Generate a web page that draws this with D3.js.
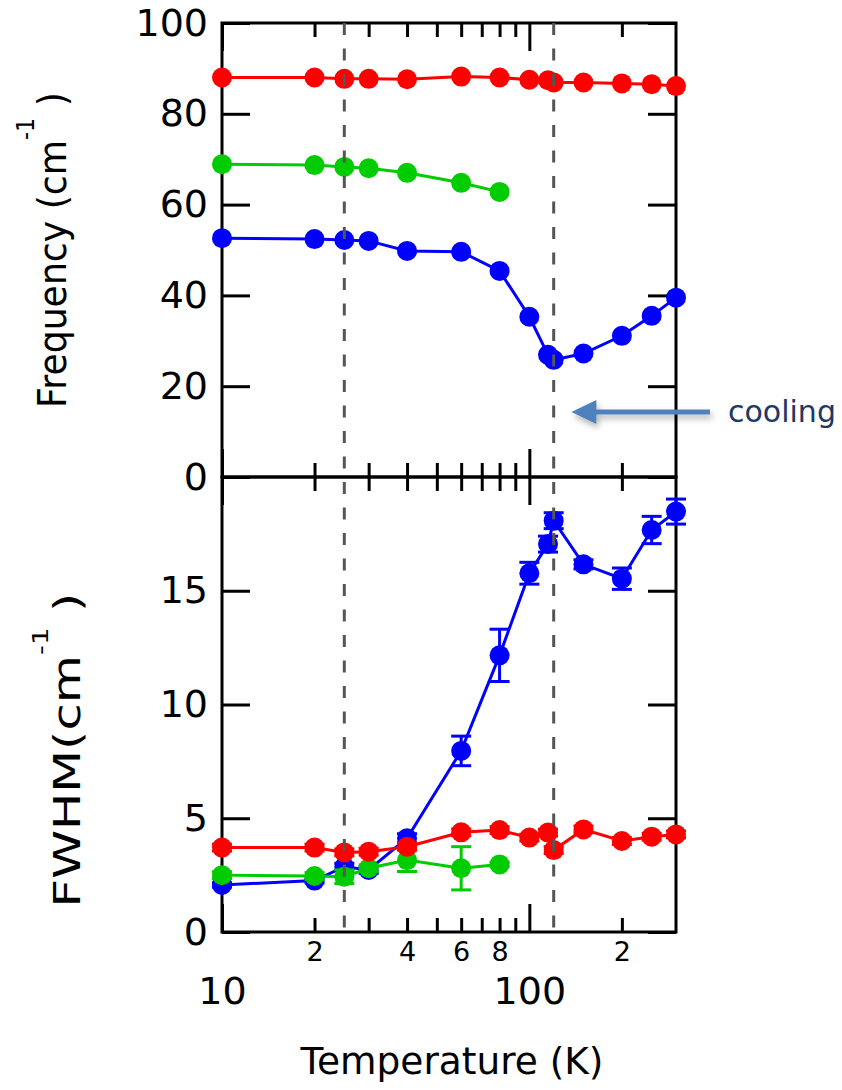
<!DOCTYPE html>
<html>
<head>
<meta charset="utf-8">
<script src="https://cdn.jsdelivr.net/npm/d3@7"></script>
<style>
  body { margin: 0; background: #fff; }
  text { font-family: "DejaVu Sans", sans-serif; }
</style>
</head>
<body>
<div id="chart"></div>
<script>
// temperatures (K) shared by every series
var temps = [10, 20, 25, 30, 40, 60, 80, 100, 115, 120, 150, 200, 250, 300];

// phonon frequency (cm-1)
var freqRed   = [88.0, 88.0, 87.7, 87.7, 87.6, 88.2, 88.0, 87.5, 87.4, 86.9, 86.9, 86.7, 86.5, 86.1];
var freqGreen = [68.9, 68.7, 68.3, 68.0, 67.0, 64.8, 62.8];
var freqBlue  = [52.6, 52.4, 52.2, 52.0, 49.8, 49.6, 45.4, 35.3, 26.9, 25.8, 27.2, 31.1, 35.5, 39.5];

// linewidth (cm-1) and error bars
var fwhmRed      = [3.71, 3.71, 3.50, 3.53, 3.75, 4.38, 4.48, 4.15, 4.37, 3.60, 4.51, 4.00, 4.19, 4.29];
var fwhmRedErr   = [0.15, 0.15, 0.15, 0.15, 0.15, 0.15, 0.15, 0.15, 0.15, 0.15, 0.15, 0.15, 0.15, 0.15];
var fwhmGreen    = [2.50, 2.46, 2.43, 2.80, 3.16, 2.80, 2.97];
var fwhmGreenErr = [0.15, 0.15, 0.30, 0.15, 0.50, 0.95, 0.10];
var fwhmBlue     = [2.07, 2.26, 2.87, 2.73, 4.12, 7.96, 12.16, 15.77, 17.05, 18.08, 16.16, 15.53, 17.67, 18.48];
var fwhmBlueErr  = [0.10, 0.10, 0.15, 0.15, 0.20, 0.65, 1.15, 0.48, 0.35, 0.35, 0.20, 0.47, 0.60, 0.55];

// axes
var freqTicks = [0, 20, 40, 60, 80, 100];
var fwhmTicks = [0, 5, 10, 15];
var majorT = [10, 100];
var minorT = [20, 30, 40, 50, 60, 70, 80, 90, 200];
var minorLabels = { 20: "2", 40: "4", 60: "6", 80: "8", 200: "2" };
var transitionT = [25, 120];

var colors = { red: "#ff0000", green: "#00cc00", blue: "#0000ff" };

var W = 842, H = 1090;
var plot = { left: 222, right: 676, top: 23, mid: 477, bottom: 932 };

var svg = d3.select("#chart").append("svg")
    .attr("width", W)
    .attr("height", H);

var x = d3.scaleLog().domain([10, 300]).range([plot.left, plot.right]);
var yFreq = d3.scaleLinear().domain([0, 100]).range([plot.mid, plot.top]);
var yFwhm = d3.scaleLinear().domain([0, 20]).range([plot.bottom, plot.mid]);

var defs = svg.append("defs");
defs.append("filter").attr("id", "shadow")
    .attr("x", "-20%").attr("y", "-100%").attr("width", "140%").attr("height", "300%")
  .append("feDropShadow")
    .attr("dx", 2).attr("dy", 4).attr("stdDeviation", 3)
    .attr("flood-color", "#000").attr("flood-opacity", 0.3);

function styleAxis(g, size) {
    g.select(".domain").remove();
    g.selectAll(".tick line").attr("stroke", "#000").attr("stroke-width", 3);
    g.selectAll(".tick text")
        .attr("font-family", "DejaVu Sans, sans-serif")
        .attr("font-size", size)
        .attr("fill", "#000");
}

function addAxis(axis, tx, ty, size) {
    var g = svg.append("g")
        .attr("transform", "translate(" + tx + "," + ty + ")")
        .call(axis);
    styleAxis(g, size || 10);
    return g;
}

// ---- x axes (minor and major ticks, inward) ----
function xAxes(gen, y, withLabels) {
    var minor = gen(x).tickValues(minorT).tickSizeInner(-14).tickSizeOuter(0)
        .tickPadding(10)
        .tickFormat(function (d) { return withLabels ? (minorLabels[d] || "") : ""; });
    addAxis(minor, 0, y, 27);
    var major = gen(x).tickValues(majorT).tickSizeInner(-28).tickSizeOuter(0)
        .tickPadding(45)
        .tickFormat(function (d) { return withLabels ? d : ""; });
    addAxis(major, 0, y, 38);
}
xAxes(d3.axisTop, plot.top, false);
xAxes(d3.axisBottom, plot.mid, false);
xAxes(d3.axisTop, plot.mid, false);
xAxes(d3.axisBottom, plot.bottom, true);

// ---- y axes ----
addAxis(d3.axisLeft(yFreq).tickValues(freqTicks).tickSizeInner(-28).tickSizeOuter(0).tickPadding(14),
    plot.left, 0, 38);
addAxis(d3.axisRight(yFreq).tickValues(freqTicks).tickSizeInner(-28).tickSizeOuter(0).tickFormat(""),
    plot.right, 0);
addAxis(d3.axisLeft(yFwhm).tickValues(fwhmTicks).tickSizeInner(-28).tickSizeOuter(0).tickPadding(14),
    plot.left, 0, 38);
addAxis(d3.axisRight(yFwhm).tickValues(fwhmTicks).tickSizeInner(-28).tickSizeOuter(0).tickFormat(""),
    plot.right, 0);

// frames
[[plot.top, plot.mid], [plot.mid, plot.bottom]].forEach(function (p) {
    svg.append("rect")
        .attr("x", plot.left).attr("y", p[0])
        .attr("width", plot.right - plot.left).attr("height", p[1] - p[0])
        .attr("fill", "none").attr("stroke", "#000").attr("stroke-width", 3);
});

// ---- data ----
function drawSeries(y, vals, errs, color) {
    var pts = vals.map(function (v, i) {
        return { t: temps[i], v: v, e: errs ? errs[i] : 0 };
    });
    var g = svg.append("g");
    var line = d3.line()
        .x(function (d) { return x(d.t); })
        .y(function (d) { return y(d.v); });
    g.append("path").datum(pts)
        .attr("d", line)
        .attr("fill", "none")
        .attr("stroke", color)
        .attr("stroke-width", 3);
    g.selectAll("circle").data(pts).enter().append("circle")
        .attr("cx", function (d) { return x(d.t); })
        .attr("cy", function (d) { return y(d.v); })
        .attr("r", 10)
        .attr("fill", color);
    if (errs) {
        var eb = g.selectAll(".err").data(pts).enter().append("g")
            .attr("class", "err")
            .attr("stroke", color)
            .attr("stroke-width", 3);
        eb.append("line")
            .attr("x1", function (d) { return x(d.t); })
            .attr("x2", function (d) { return x(d.t); })
            .attr("y1", function (d) { return y(d.v - d.e); })
            .attr("y2", function (d) { return y(d.v + d.e); });
        [-1, 1].forEach(function (s) {
            eb.append("line")
                .attr("x1", function (d) { return x(d.t) - 10; })
                .attr("x2", function (d) { return x(d.t) + 10; })
                .attr("y1", function (d) { return y(d.v + s * d.e); })
                .attr("y2", function (d) { return y(d.v + s * d.e); });
        });
    }
}

drawSeries(yFreq, freqBlue, null, colors.blue);
drawSeries(yFreq, freqGreen, null, colors.green);
drawSeries(yFreq, freqRed, null, colors.red);

drawSeries(yFwhm, fwhmBlue, fwhmBlueErr, colors.blue);
drawSeries(yFwhm, fwhmGreen, fwhmGreenErr, colors.green);
drawSeries(yFwhm, fwhmRed, fwhmRedErr, colors.red);

// transition markers
svg.selectAll(".trans").data(transitionT).enter().append("line")
    .attr("class", "trans")
    .attr("x1", function (d) { return x(d); })
    .attr("x2", function (d) { return x(d); })
    .attr("y1", plot.top)
    .attr("y2", plot.bottom)
    .attr("stroke", "#555")
    .attr("stroke-width", 3)
    .attr("stroke-dasharray", "12,13.5");

// ---- cooling arrow ----
var arrowY = yFreq(14.3), tipX = x(137), tailX = plot.right + 34;
var arrow = svg.append("g").attr("filter", "url(#shadow)");
arrow.append("line")
    .attr("x1", tailX).attr("x2", tipX + 22)
    .attr("y1", arrowY).attr("y2", arrowY)
    .attr("stroke", "#4f81bd").attr("stroke-width", 5);
arrow.append("path")
    .attr("d", "M" + tipX + "," + arrowY + "L" + (tipX + 25) + "," + (arrowY - 12) +
               "L" + (tipX + 25) + "," + (arrowY + 12) + "Z")
    .attr("fill", "#4f81bd");
svg.append("text")
    .attr("x", plot.right + 52).attr("y", arrowY + 10)
    .attr("font-size", 30)
    .attr("fill", "#1f3864")
    .text("cooling");

// ---- axis titles ----
function fitTitle(g, tx, ty, rot, len) {
    var w = g.node().getBBox().width;
    g.attr("transform", "translate(" + tx + "," + ty + ") rotate(" + rot + ") scale(" + (len / w) + ",1)");
}

function unitTitle(label, size, supSize, lift) {
    var g = svg.append("g");
    var t = g.append("text").attr("text-anchor", "middle").attr("font-size", size).attr("fill", "#000");
    t.append("tspan").text(label + "(cm");
    t.append("tspan").attr("font-size", supSize).attr("dy", -lift).text("-1");
    t.append("tspan").attr("dy", lift).text(" )");
    return g;
}

fitTitle(unitTitle("Frequency ", 39, 24, 32), 66, 250, -90, 316);
fitTitle(unitTitle("FWHM", 38, 21, 32), 80, 750, -90, 315);

var tg = svg.append("g");
tg.append("text").attr("text-anchor", "middle").attr("font-size", 38).attr("fill", "#000")
    .text("Temperature (K)");
fitTitle(tg, 452, 1074, 0, 304);
</script>
</body>
</html>
